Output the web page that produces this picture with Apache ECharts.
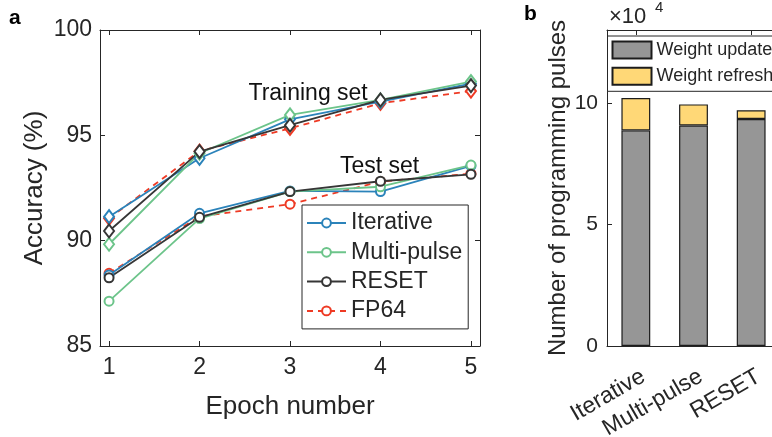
<!DOCTYPE html>
<html>
<head>
<meta charset="utf-8">
<script src="https://cdn.jsdelivr.net/npm/echarts@6/dist/echarts.min.js"></script>
<style>
  html, body { margin: 0; padding: 0; overflow: hidden; background: #fff; }
  #c { width: 800px; height: 437px; }
</style>
</head>
<body>
<div id="c"></div>
<script>
// ---- data: accuracy per epoch (panel a) ----
const epochs = [1, 2, 3, 4, 5];
const methods = ['Iterative', 'Multi-pulse', 'RESET', 'FP64'];

const trainIterative  = [91.14, 93.91, 95.76, 96.60, 97.45];
const trainMultiPulse = [89.83, 94.15, 95.97, 96.68, 97.55];
const trainReset      = [90.46, 94.23, 95.48, 96.68, 97.36];
const trainFp64       = [91.06, 94.25, 95.33, 96.52, 97.10];

const testIterative   = [88.37, 91.30, 92.36, 92.33, 93.55];
const testMultiPulse  = [87.13, 91.05, 92.33, 92.56, 93.59];
const testReset       = [88.24, 91.11, 92.33, 92.82, 93.15];
const testFp64        = [88.45, 91.15, 91.73, 92.80, 93.18];

const accuracyTicks = [85, 90, 95, 100];

// ---- data: programming pulses (panel b) ----
const schemes = ['Iterative', 'Multi-pulse', 'RESET'];
const weightUpdate  = [88700, 90700, 93400];
const weightRefresh = [13300, 8700, 3600];
const pulseTicks = [0, 50000, 100000];

// ---- styling ----
const FONT = '"Liberation Sans", Arial, Helvetica, sans-serif';
const INK = '#262626';
const colors = {
  'Iterative': '#2b83ba',
  'Multi-pulse': '#6cc48a',
  'RESET': '#363636',
  'FP64': '#ee3a24'
};
const trainSets = [trainIterative, trainMultiPulse, trainReset, trainFp64];
const testSets = [testIterative, testMultiPulse, testReset, testFp64];

const toPairs = vals => epochs.map((e, i) => [e, vals[i]]);

function lineSeries(name, vals, symbol, size) {
  const dashed = name === 'FP64';
  return {
    type: 'line',
    name: name,
    xAxisIndex: 0,
    yAxisIndex: 0,
    data: toPairs(vals),
    symbol: symbol,
    symbolSize: size,
    showAllSymbol: true,
    lineStyle: { color: colors[name], width: 1.8, type: dashed ? [6, 5] : 'solid' },
    itemStyle: { color: colors[name], borderWidth: 1.6 },
    emphasis: { disabled: true },
    z: dashed ? 1 : 2
  };
}

const series = [];
methods.forEach((m, i) => series.push(lineSeries(m, testSets[i], 'emptyCircle', 9)));
methods.forEach((m, i) => series.push(lineSeries(m, trainSets[i], 'emptyDiamond', [10, 13])));

series.push({
  type: 'bar', name: 'Weight update', xAxisIndex: 2, yAxisIndex: 2, stack: 'pulses',
  data: weightUpdate, barWidth: '50%',
  itemStyle: { color: '#969696', borderColor: '#1c1c1c', borderWidth: 1.2 }
});
series.push({
  type: 'bar', name: 'Weight refresh', xAxisIndex: 2, yAxisIndex: 2, stack: 'pulses',
  data: weightRefresh, barWidth: '50%',
  itemStyle: { color: '#ffd877', borderColor: '#1c1c1c', borderWidth: 1.2 }
});

const lineAx = { show: true, onZero: false, lineStyle: { color: INK, width: 1 } };
const tickAx = (extra) => Object.assign({ show: true, inside: true, length: 5, lineStyle: { color: INK, width: 1 } }, extra || {});
const labelAx = (size, extra) => Object.assign({ color: INK, fontSize: size, fontFamily: FONT }, extra || {});
const nameStyle = (size) => ({ color: INK, fontSize: size, fontFamily: FONT });

const option = {
  animation: false,
  backgroundColor: '#fff',
  grid: [
    { left: 100, top: 30, width: 380, height: 316, containLabel: false, outerBoundsMode: 'none' },
    { left: 607, top: 30, width: 173, height: 316, containLabel: false, outerBoundsMode: 'none' }
  ],
  xAxis: [
    {
      type: 'value', gridIndex: 0, position: 'bottom', min: 0.9, max: 5.1,
      axisLine: lineAx, splitLine: { show: false },
      axisTick: tickAx({ customValues: epochs }),
      axisLabel: labelAx(23, { customValues: epochs, margin: 10 }),
      name: 'Epoch number', nameLocation: 'middle', nameGap: 48, nameTextStyle: nameStyle(26)
    },
    {
      type: 'value', gridIndex: 0, position: 'top', min: 0.9, max: 5.1,
      axisLine: lineAx, splitLine: { show: false },
      axisTick: tickAx({ customValues: epochs }),
      axisLabel: { show: false }
    },
    {
      type: 'category', gridIndex: 1, position: 'bottom', data: schemes,
      axisLine: lineAx, splitLine: { show: false },
      axisTick: tickAx({ alignWithLabel: true }),
      axisLabel: labelAx(23, { rotate: 30, margin: 20, interval: 0, align: 'right', verticalAlign: 'top', padding: [0, -2, 0, 0] })
    },
    {
      type: 'category', gridIndex: 1, position: 'top', data: schemes,
      axisLine: lineAx, splitLine: { show: false },
      axisTick: tickAx({ alignWithLabel: true }),
      axisLabel: { show: false }
    }
  ],
  yAxis: [
    {
      type: 'value', gridIndex: 0, position: 'left', min: 85, max: 100, interval: 5,
      axisLine: lineAx, splitLine: { show: false },
      axisTick: tickAx({ customValues: accuracyTicks }),
      axisLabel: labelAx(23, { customValues: accuracyTicks, margin: 8 }),
      name: 'Accuracy (%)', nameLocation: 'middle', nameGap: 52, nameRotate: 90, nameTextStyle: nameStyle(26)
    },
    {
      type: 'value', gridIndex: 0, position: 'right', min: 85, max: 100, interval: 5,
      axisLine: lineAx, splitLine: { show: false },
      axisTick: tickAx({ customValues: accuracyTicks }),
      axisLabel: { show: false }
    },
    {
      type: 'value', gridIndex: 1, position: 'left', min: 0, max: 130000, interval: 50000,
      axisLine: lineAx, splitLine: { show: false },
      axisTick: tickAx({ customValues: pulseTicks }),
      axisLabel: labelAx(21, { customValues: pulseTicks, margin: 9, formatter: v => String(v / 10000) }),
      name: 'Number of programming pulses', nameLocation: 'middle', nameGap: 36, nameRotate: 90, nameTextStyle: nameStyle(24)
    },
    {
      type: 'value', gridIndex: 1, position: 'right', min: 0, max: 130000, interval: 50000,
      axisLine: lineAx, splitLine: { show: false },
      axisTick: tickAx({ customValues: pulseTicks }),
      axisLabel: { show: false }
    }
  ],
  legend: [
    {
      data: methods, orient: 'vertical', left: 302, top: 205,
      backgroundColor: '#fff', borderColor: INK, borderWidth: 1,
      padding: [6, 6, 6, 4], itemWidth: 39, itemHeight: 11, itemGap: 5.3,
      selectedMode: false,
      textStyle: { color: INK, fontSize: 23, fontFamily: FONT, lineHeight: 24 }
    },
    {
      data: ['Weight update', 'Weight refresh'], orient: 'vertical', left: 607.5, top: 36,
      backgroundColor: '#fff', borderColor: INK, borderWidth: 1,
      padding: [4.5, 30, 5.5, 4], icon: 'rect', itemWidth: 39, itemHeight: 17, itemGap: 7.3,
      selectedMode: false,
      textStyle: { color: INK, fontSize: 18, fontFamily: FONT, lineHeight: 17 }
    }
  ],
  series: series,
  graphic: [
    { type: 'text', left: 9, top: 8, style: { text: 'a', fill: '#000', font: 'bold 21px ' + FONT } },
    { type: 'text', left: 524, top: 4, style: { text: 'b', fill: '#000', font: 'bold 21px ' + FONT } },
    { type: 'text', left: 609, top: 6, style: { text: '×10', fill: INK, font: '22px ' + FONT } },
    { type: 'text', left: 655, top: 0, style: { text: '4', fill: INK, font: '15px ' + FONT } }
  ]
};

const chart = echarts.init(document.getElementById('c'));
chart.setOption(option);

// Set labels placed in data space of panel a
const setLabels = [
  { text: 'Training set', at: [3.2, 97.0] },
  { text: 'Test set', at: [3.99, 93.5] }
];
chart.setOption({
  graphic: option.graphic.concat(setLabels.map(s => {
    const p = chart.convertToPixel({ gridIndex: 0 }, s.at);
    return {
      type: 'text', x: p[0], y: p[1], z: 10,
      style: { text: s.text, fill: '#111', font: '23px ' + FONT, align: 'center', verticalAlign: 'middle' }
    };
  }))
});
</script>
</body>
</html>
